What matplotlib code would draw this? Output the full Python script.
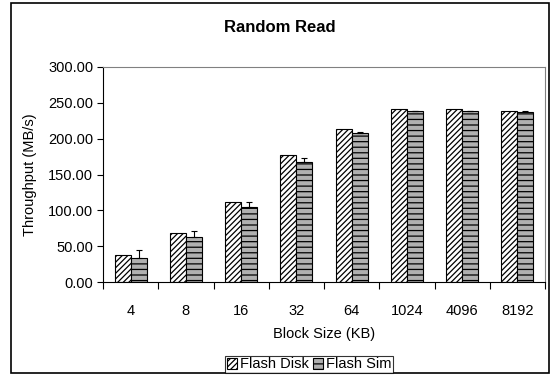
import matplotlib
matplotlib.use("Agg")
import matplotlib.pyplot as plt
from matplotlib.patches import Rectangle
import numpy as np

plt.rcParams['font.family'] = ['Liberation Sans', 'DejaVu Sans']
plt.rcParams['hatch.linewidth'] = 0.9

categories = ["4", "8", "16", "32", "64", "1024", "4096", "8192"]
flash_disk = [38, 68, 112, 177, 214, 242, 241, 239]
flash_sim = [34, 63, 105, 168, 208, 238, 238, 237]
flash_sim_err = [10, 8, 6, 5, 2, 1, 1, 1]
yticks = [0, 50, 100, 150, 200, 250, 300]

W, H = 551, 376
FS = 10.5
fig = plt.figure(figsize=(W / 100, H / 100), dpi=100)
fig.patches.append(Rectangle((11 / W, 3 / H), (549 - 11) / W, (373 - 3) / H,
                             transform=fig.transFigure, fill=False,
                             edgecolor='black', linewidth=1.2))
ax = fig.add_axes([103 / W, 1 - 282 / H, (545 - 103) / W, (282 - 67) / H])

x = np.arange(len(categories))
bw = 0.29
ax.bar(x - bw / 2, flash_disk, bw, facecolor='white', edgecolor='black',
       hatch='//////', linewidth=0.8, label='Flash Disk')
ax.bar(x + bw / 2, flash_sim, bw, facecolor='#b0b0b0', edgecolor='black',
       hatch='---', linewidth=0.8, label='Flash Sim',
       yerr=[np.zeros(len(flash_sim)), flash_sim_err],
       error_kw=dict(ecolor='black', elinewidth=0.8, capsize=2, capthick=0.8))

ax.set_xlim(-0.5, len(categories) - 0.5)
ax.set_ylim(0, 300)
ax.set_yticks(yticks)
ax.set_yticklabels([f"{v:.2f}" for v in yticks], fontsize=FS)
ax.set_xticks(x)
ax.set_xticklabels(categories, fontsize=FS)
ax.set_xticks(np.arange(len(categories) + 1) - 0.5, minor=True)
ax.tick_params(axis='x', which='major', length=0, pad=16)
ax.tick_params(axis='x', which='minor', length=5, width=0.8)
ax.tick_params(axis='y', length=4, width=0.8, pad=3)
for s in ['top', 'right']:
    ax.spines[s].set_color('#808080')
for s in ['left', 'bottom']:
    ax.spines[s].set_linewidth(0.8)

ax.set_xlabel('Block Size (KB)', fontsize=FS, labelpad=6)
ax.set_ylabel('Throughput (MB/s)', fontsize=FS, labelpad=8)
fig.text(280 / W, 1 - 28 / H, 'Random Read', ha='center', va='center',
         fontsize=12, fontweight='bold')

leg = fig.legend(loc='center', bbox_to_anchor=(309 / W, 1 - 364.5 / H), ncol=2,
                 fontsize=FS, frameon=True, fancybox=False, edgecolor='black',
                 handlelength=0.7, handleheight=0.7, handletextpad=0.2,
                 columnspacing=0.3, borderpad=0.1, borderaxespad=0)
leg.get_frame().set_linewidth(0.8)

fig.savefig('out.png', dpi=100)
